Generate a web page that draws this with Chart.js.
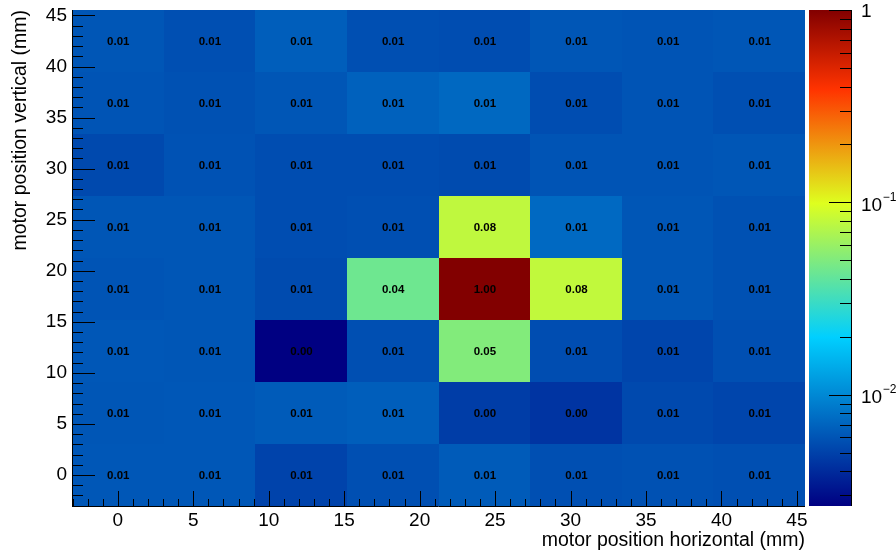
<!DOCTYPE html>
<html>
<head>
<meta charset="utf-8">
<script src="https://cdn.jsdelivr.net/npm/chart.js@4.4.0/dist/chart.umd.min.js"></script>
<style>
  html, body { margin: 0; padding: 0; background: #fff; }
</style>
</head>
<body>
<canvas id="mapa" width="896" height="552"></canvas>
<script>
"use strict";

// posicoes do motor (centro dos bins, mm)
var posH = [0, 6.07, 12.14, 18.21, 24.29, 30.36, 36.43, 42.5];
var posV = [0, 6.07, 12.14, 18.21, 24.29, 30.36, 36.43, 42.5];
var binW = 6.07;

// sinal normalizado, uma linha por posicao vertical (esq -> dir)
var v00 = [0.0062, 0.0062, 0.0051, 0.0057, 0.0064, 0.0057, 0.0058, 0.0057];
var v06 = [0.0061, 0.0062, 0.0064, 0.0066, 0.0048, 0.0044, 0.0054, 0.0052];
var v12 = [0.0062, 0.0061, 0.00264, 0.0057, 0.051, 0.0056, 0.0052, 0.0057];
var v18 = [0.0060, 0.0061, 0.0055, 0.044, 1.00, 0.080, 0.0061, 0.0058];
var v24 = [0.0061, 0.0061, 0.0056, 0.0057, 0.079, 0.0074, 0.0061, 0.0058];
var v30 = [0.0054, 0.0059, 0.0056, 0.0056, 0.0055, 0.0060, 0.0060, 0.0061];
var v36 = [0.0060, 0.0058, 0.0061, 0.0068, 0.0073, 0.0056, 0.0060, 0.0057];
var v42 = [0.0061, 0.0057, 0.0066, 0.0057, 0.0056, 0.0061, 0.0060, 0.0061];
var linhas = [v00, v06, v12, v18, v24, v30, v36, v42];

// ticks
var xTicks = [0, 5, 10, 15, 20, 25, 30, 35, 40, 45];
var yTicks = [0, 5, 10, 15, 20, 25, 30, 35, 40, 45];
var zTicks = [0.01, 0.1, 1];
var zExpo = ["\u22122", "\u22121", ""];

var zMin = Math.min.apply(null, [].concat.apply([], linhas));
var zMax = Math.max.apply(null, [].concat.apply([], linhas));

// paleta estilo ROOT
var palStops = [0.00, 0.34, 0.61, 0.84, 1.00];
var palR = [0.00, 0.00, 0.87, 1.00, 0.51];
var palG = [0.00, 0.81, 1.00, 0.20, 0.00];
var palB = [0.51, 1.00, 0.12, 0.00, 0.00];

var fonte = '"Liberation Sans", Arial, sans-serif';

// bordas dos bins: meio caminho entre centros
function bordas(pos) {
    var e = [pos[0] - binW / 2];
    for (var i = 1; i < pos.length; i++) e.push((pos[i - 1] + pos[i]) / 2);
    e.push(pos[pos.length - 1] + binW / 2);
    return e;
}
var bordaH = bordas(posH);
var bordaV = bordas(posV);

function corPaleta(f) {
    f = Math.max(0, Math.min(1, f));
    var i = 0;
    while (i < palStops.length - 2 && f > palStops[i + 1]) i++;
    var t = (f - palStops[i]) / (palStops[i + 1] - palStops[i]);
    var r = Math.round(255 * (palR[i] + t * (palR[i + 1] - palR[i])));
    var g = Math.round(255 * (palG[i] + t * (palG[i + 1] - palG[i])));
    var b = Math.round(255 * (palB[i] + t * (palB[i + 1] - palB[i])));
    return 'rgb(' + r + ',' + g + ',' + b + ')';
}

function fracZ(sz, v) {
    return (sz.bottom - sz.getPixelForValue(v)) / (sz.bottom - sz.top);
}

function semPadding(s) {
    s.paddingTop = 0;
    s.paddingBottom = 0;
    s.paddingLeft = 0;
    s.paddingRight = 0;
}

var mapaPlugin = {
    id: 'mapa',
    beforeDatasetsDraw: function (chart) {
        var ctx = chart.ctx, sx = chart.scales.x, sy = chart.scales.y, sz = chart.scales.z;
        ctx.save();
        for (var r = 0; r < posV.length; r++) {
            for (var c = 0; c < posH.length; c++) {
                var x0 = Math.round(sx.getPixelForValue(bordaH[c]));
                var x1 = Math.round(sx.getPixelForValue(bordaH[c + 1]));
                var y0 = Math.round(sy.getPixelForValue(bordaV[r + 1]));
                var y1 = Math.round(sy.getPixelForValue(bordaV[r]));
                ctx.fillStyle = corPaleta(fracZ(sz, linhas[r][c]));
                ctx.fillRect(x0, y0, x1 - x0, y1 - y0);
            }
        }
        ctx.fillStyle = '#000';
        ctx.font = 'bold 11.5px ' + fonte;
        ctx.textAlign = 'center';
        ctx.textBaseline = 'middle';
        for (r = 0; r < posV.length; r++) {
            for (c = 0; c < posH.length; c++) {
                ctx.fillText(linhas[r][c].toFixed(2), sx.getPixelForValue(posH[c]) + 0.5, sy.getPixelForValue(posV[r]) + 0.5);
            }
        }
        ctx.restore();
    },
    afterDraw: function (chart) {
        var ctx = chart.ctx, sx = chart.scales.x, sy = chart.scales.y, sz = chart.scales.z;
        var area = chart.chartArea;
        var v, p;
        ctx.save();
        ctx.strokeStyle = '#000';
        ctx.lineWidth = 1;
        ctx.beginPath();
        // eixos
        ctx.moveTo(area.left + 0.5, area.top);
        ctx.lineTo(area.left + 0.5, area.bottom + 1);
        ctx.moveTo(area.left, area.bottom + 0.5);
        ctx.lineTo(area.right, area.bottom + 0.5);
        // ticks x
        for (v = Math.ceil(sx.min); v <= sx.max; v++) {
            p = Math.round(sx.getPixelForValue(v)) + 0.5;
            ctx.moveTo(p, area.bottom);
            ctx.lineTo(p, area.bottom - (v % 5 === 0 ? 15 : 7));
        }
        // ticks y
        for (v = Math.ceil(sy.min); v <= sy.max; v++) {
            p = Math.round(sy.getPixelForValue(v)) + 0.5;
            ctx.moveTo(area.left, p);
            ctx.lineTo(area.left + (v % 5 === 0 ? 23 : 11), p);
        }
        ctx.stroke();

        // barra de cores
        var bx0 = sz.left + 4, bx1 = sz.left + 46;
        var grad = ctx.createLinearGradient(0, sz.bottom, 0, sz.top);
        for (var i = 0; i < palStops.length; i++) {
            grad.addColorStop(palStops[i], corPaleta(palStops[i]));
        }
        ctx.fillStyle = grad;
        ctx.fillRect(bx0, sz.top, bx1 - bx0, sz.bottom - sz.top);
        ctx.beginPath();
        ctx.moveTo(bx1 + 0.5, sz.top);
        ctx.lineTo(bx1 + 0.5, sz.bottom);
        for (var d = Math.floor(Math.log10(sz.min)); d <= 0; d++) {
            for (var m = 1; m <= 9; m++) {
                v = m * Math.pow(10, d);
                if (v < sz.min || v > sz.max * 1.0001) continue;
                p = Math.round(sz.getPixelForValue(v)) + 0.5;
                ctx.moveTo(bx1, p);
                ctx.lineTo(bx1 - (m === 1 ? 22 : 11), p);
            }
        }
        ctx.stroke();

        // rotulos da barra de cores
        ctx.fillStyle = '#000';
        ctx.textAlign = 'left';
        ctx.textBaseline = 'middle';
        for (i = 0; i < zTicks.length; i++) {
            p = sz.getPixelForValue(zTicks[i]) + 3;
            var lx = sz.left + 56;
            ctx.font = '19px ' + fonte;
            var base = zExpo[i] === "" ? "1" : "10";
            if (zExpo[i] === "") p -= 1;
            ctx.fillText(base, lx, p);
            if (zExpo[i] !== "") {
                var w = ctx.measureText(base).width;
                ctx.font = '12px ' + fonte;
                ctx.fillText(zExpo[i], lx + w + 0.5, p - 8);
            }
        }
        ctx.restore();
    }
};

var fonteTick = {family: fonte, size: 19};
var fonteTit = {family: fonte, size: 19.5};

var chart = new Chart(document.getElementById('mapa').getContext('2d'), {
    type: 'scatter',
    data: {datasets: []},
    plugins: [mapaPlugin],
    options: {
        responsive: false,
        animation: false,
        devicePixelRatio: 1,
        layout: {padding: {top: 10, left: 0, right: 0, bottom: 0}},
        plugins: {legend: {display: false}, tooltip: {enabled: false}},
        scales: {
            x: {
                type: 'linear', position: 'bottom',
                min: bordaH[0], max: bordaH[bordaH.length - 1],
                grid: {display: false, drawTicks: false},
                border: {display: false},
                ticks: {color: '#000', font: fonteTick, padding: 3, maxRotation: 0, autoSkip: false},
                afterBuildTicks: function (s) { s.ticks = xTicks.map(function (t) { return {value: t}; }); },
                afterFit: function (s) { s.height = 46; semPadding(s); },
                title: {display: true, text: 'motor position horizontal (mm)', align: 'end', color: '#000',
                    font: fonteTit, padding: {top: 0, bottom: 0}}
            },
            y: {
                type: 'linear', position: 'left',
                min: bordaV[0], max: bordaV[bordaV.length - 1],
                grid: {display: false, drawTicks: false},
                border: {display: false},
                ticks: {color: '#000', font: fonteTick, padding: 5, autoSkip: false},
                afterBuildTicks: function (s) { s.ticks = yTicks.map(function (t) { return {value: t}; }); },
                afterFit: function (s) { s.width = 72; semPadding(s); },
                title: {display: true, text: 'motor position vertical (mm)', align: 'end', color: '#000',
                    font: fonteTit, padding: {top: 9, bottom: 0}}
            },
            z: {
                type: 'logarithmic', position: 'right',
                min: zMin, max: zMax,
                grid: {display: false, drawTicks: false},
                border: {display: false},
                ticks: {display: false},
                afterBuildTicks: function (s) { s.ticks = zTicks.map(function (t) { return {value: t}; }); },
                afterFit: function (s) { s.width = 91; semPadding(s); }
            }
        }
    }
});
</script>
</body>
</html>
